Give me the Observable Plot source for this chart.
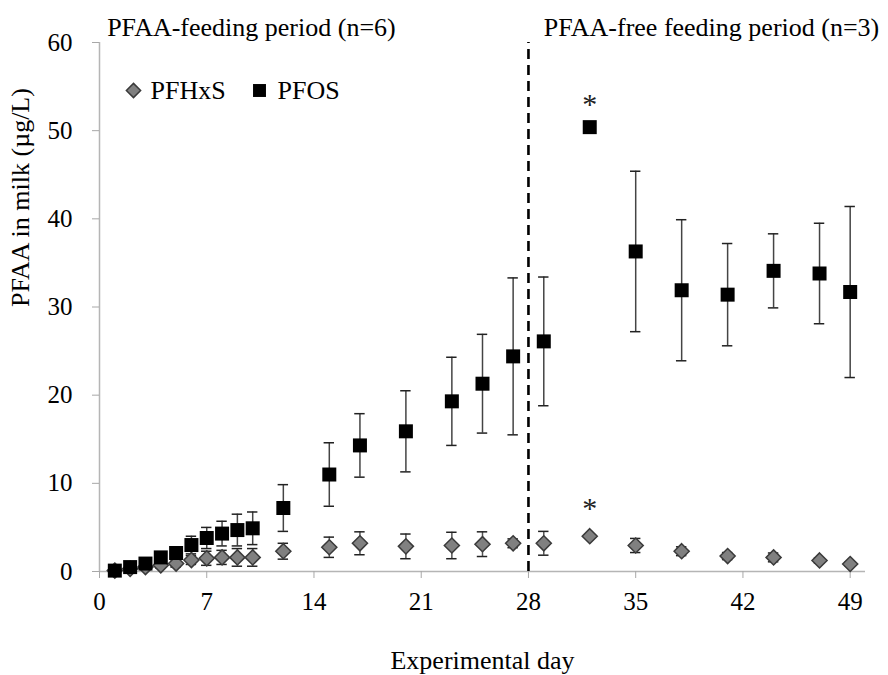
<!DOCTYPE html>
<html><head><meta charset="utf-8">
<script src="https://cdn.jsdelivr.net/npm/d3@7"></script>
<script src="https://cdn.jsdelivr.net/npm/@observablehq/plot@0.6"></script>
<style>body{margin:0;background:#fff} #chart{width:888px;height:675px}</style>
</head><body><div id="chart"></div>
<script>
const days      = [1,2,3,4,5,6,7,8,9,10,12,15,17,20,23,25,27,29,32,35,38,41,44,47,49];
const pfosMean  = [0.1,0.5,0.9,1.6,2.1,3.0,3.8,4.3,4.7,4.9,7.2,11.0,14.3,15.9,19.3,21.3,24.4,26.1,50.4,36.3,31.9,31.4,34.1,33.8,31.7];
const pfosErr   = [0.1,0.2,0.3,0.4,0.5,1.0,1.2,1.4,1.8,1.85,2.65,3.6,3.6,4.6,5.0,5.6,8.9,7.3,0.3,9.1,8.0,5.8,4.2,5.7,9.7];
const pfhxsMean = [0.1,0.3,0.5,0.7,0.9,1.3,1.5,1.6,1.6,1.6,2.3,2.75,3.2,2.85,2.95,3.1,3.2,3.2,4.0,2.95,2.3,1.75,1.6,1.25,0.85];
const pfhxsErr  = [0.05,0.1,0.2,0.3,0.4,0.5,0.8,0.8,1.0,1.0,0.9,1.15,1.3,1.4,1.5,1.4,0.5,1.35,0.2,0.8,0.5,0.4,0.5,0.3,0.2];
const xTicks = [0,7,14,21,28,35,42,49];
const yTicks = [0,10,20,30,40,50,60];
const periodLabels = ["PFAA-feeding period (n=6)", "PFAA-free feeding period (n=3)"];
const periodStart = [0.5, 29];
const switchDay = 28;
const starDays = [32];
const seriesNames = ["PFHxS", "PFOS"];
const xLabel = "Experimental day";
const yLabel = "PFAA in milk (µg/L)";

const pfos = days.map((d,i)=>({day:d, mean:pfosMean[i], err:pfosErr[i]}));
const pfhxs = days.map((d,i)=>({day:d, mean:pfhxsMean[i], err:pfhxsErr[i]}));
const cap = 0.34;
const errMarks = (data, stroke) => [
  Plot.ruleX(data, {x:"day", y1:d=>d.mean-d.err, y2:d=>d.mean+d.err, stroke, strokeWidth:1.5}),
  Plot.ruleY(data, {y:d=>d.mean+d.err, x1:d=>d.day-cap, x2:d=>d.day+cap, stroke:"#222", strokeWidth:1.5}),
  Plot.ruleY(data, {y:d=>d.mean-d.err, x1:d=>d.day-cap, x2:d=>d.day+cap, stroke:"#222", strokeWidth:1.5})
];

const chart = Plot.plot({
  width: 888, height: 675,
  marginLeft: 99, marginRight: 23, marginTop: 42, marginBottom: 104,
  style: {fontFamily: "'Liberation Serif', 'Times New Roman', serif", fontSize: "25px", color: "black", background: "white"},
  x: {domain: [0, 50]},
  y: {domain: [0, 60]},
  marks: [
    Plot.ruleY([0], {stroke: "#b5b5b5", strokeWidth: 1.5}),
    Plot.ruleX([0], {stroke: "#b5b5b5", strokeWidth: 1.5}),
    Plot.axisX({ticks: xTicks, tickSize: 7, tickPadding: 14, stroke: "#a8a8a8", fill: "black", label: null}),
    Plot.axisY({ticks: yTicks, tickSize: 7, tickPadding: 20, stroke: "#a8a8a8", fill: "black", label: null}),
    Plot.text([xLabel], {frameAnchor: "bottom", lineAnchor: "middle", dy: 89, text: d=>d, fill: "black", fontSize: 26}),
    Plot.text([yLabel], {frameAnchor: "left", lineAnchor: "middle", rotate: -90, dx: -79, text: d=>d, fill: "black", fontSize: 26}),
    Plot.text(periodLabels, {x: (d,i)=>periodStart[i], frameAnchor: "top", lineAnchor: "middle", dy: -15, textAnchor: "start", text: d=>d, fill: "black", fontSize: 26}),
    Plot.ruleX([switchDay], {y1: 0, y2: 60, stroke: "black", strokeWidth: 2.6, strokeDasharray: "10,6"}),
    ...errMarks(pfhxs, "#555"),
    ...errMarks(pfos, "#444"),
    Plot.dot(pfhxs, {x:"day", y:"mean", symbol:"diamond2", r:6.8, fill:"#808080", stroke:"#3a3a3a", strokeWidth:1.5}),
    Plot.dot(pfos, {x:"day", y:"mean", symbol:"square", r:7.9, fill:"black", stroke:"none"}),
    Plot.text(pfos.filter(d=>starDays.includes(d.day)), {x:"day", y:"mean", text:()=>"*", dy:-23, fill:"#222", fontSize: 30}),
    Plot.text(pfhxs.filter(d=>starDays.includes(d.day)), {x:"day", y:"mean", text:()=>"*", dy:-28, fill:"#222", fontSize: 30}),
    // legend
    Plot.dot([seriesNames[0]], {frameAnchor:"top-left", dx:34, dy:48, symbol:"diamond2", r:6.4, fill:"#808080", stroke:"#3a3a3a", strokeWidth:1.5}),
    Plot.text([seriesNames[0]], {frameAnchor:"top-left", lineAnchor:"middle", dx:51, dy:48, textAnchor:"start", text:d=>d, fill:"black", fontSize:26}),
    Plot.dot([seriesNames[1]], {frameAnchor:"top-left", dx:160, dy:48, symbol:"square", r:7.3, fill:"black"}),
    Plot.text([seriesNames[1]], {frameAnchor:"top-left", lineAnchor:"middle", dx:178, dy:48, textAnchor:"start", text:d=>d, fill:"black", fontSize:26})
  ]
});
document.getElementById("chart").appendChild(chart);
</script>
</body></html>
